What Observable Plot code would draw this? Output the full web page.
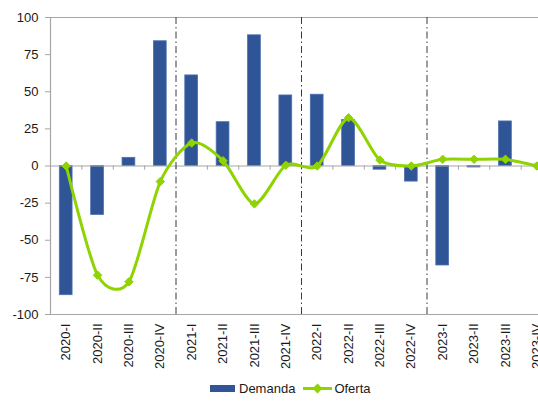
<!DOCTYPE html>
<html><head><meta charset="utf-8">
<script src="https://cdn.jsdelivr.net/npm/d3@7"></script>
<script src="https://cdn.jsdelivr.net/npm/@observablehq/plot@0.6"></script>
<style>
body{margin:0;width:538px;height:401px;overflow:hidden;background:#fff;font-family:"Liberation Sans",Arial,sans-serif;position:relative}
#chart{position:absolute;left:0;top:0;width:560px}
#chart svg{max-width:none !important}
#legend{position:absolute;left:210px;top:380px;display:flex;align-items:center;font-size:13px;color:#1a1a1a;height:16px;white-space:nowrap}
.sw{display:inline-block;width:25px;height:7px;background:#2f5597;margin-right:4px}
.ln{display:inline-block;position:relative;width:29px;height:16px;margin-left:8px;margin-right:2px}
.ln:before{content:"";position:absolute;left:0;right:0;top:6.5px;height:3px;background:#8fd300}
.ln:after{content:"";position:absolute;left:11px;top:4.5px;width:7px;height:7px;background:#8fd300;transform:rotate(45deg)}
</style></head><body>
<div id="chart"></div>
<div id="legend"><span class="sw"></span>Demanda<span class="ln"></span>Oferta</div>
<script>
const quarters = ["2020-I","2020-II","2020-III","2020-IV","2021-I","2021-II","2021-III","2021-IV","2022-I","2022-II","2022-III","2022-IV","2023-I","2023-II","2023-III","2023-IV"];
const demanda = [-87, -33, 5.5, 84, 61, 29.5, 88, 47.5, 48, 31, -2.5, -10.5, -67, -1, 30, 0];
const oferta = [0, -73.5, -78, -10.5, 15.5, 3.5, -25.5, 0.5, 0, 32.5, 4, 0, 4.5, 4.5, 4.5, 0];
const yTicks = [-100, -75, -50, -25, 0, 25, 50, 75, 100];
const yearBreaks = [4, 8, 12];

const rows = quarters.map((q, i) => ({q, i, demanda: demanda[i], oferta: oferta[i]}));
const boundaries = d3.range(1, 16);
const blue = "#2f5597", green = "#8fd300", gray = "#a6a6a6";

const chart = Plot.plot({
  width: 560, height: 372,
  marginLeft: 50, marginRight: 8, marginTop: 17, marginBottom: 58,
  style: {fontFamily: "Liberation Sans, Arial, sans-serif", fontSize: "13px", color: "#1a1a1a", background: "white", maxWidth: "none"},
  x: {type: "linear", domain: [0, 16]},
  y: {domain: [-100, 100]},
  marks: [
    Plot.rectY(rows, {x1: "i", x2: d => d.i + 1, y1: 0, y2: "demanda", fill: blue, stroke: "#4d70b0", strokeWidth: 0.8, insetLeft: 9.3, insetRight: 9.3}),
    Plot.ruleY([0], {stroke: gray, strokeWidth: 1.2}),
    Plot.ruleY([100, -100], {stroke: gray, strokeWidth: 1.2}),
    Plot.ruleX([0], {stroke: gray, strokeWidth: 1.2}),
    Plot.ruleX(boundaries, {x: d => d, y1: 0, y2: -2.8, stroke: gray}),
    Plot.ruleX(yearBreaks, {x: d => d, y1: -100, y2: 100, stroke: "#3a3a3a", strokeWidth: 1, strokeDasharray: "7,3,1.5,3"}),
    Plot.line(rows, {x: d => d.i + 0.5, y: "oferta", stroke: green, strokeWidth: 3, curve: "cardinal", tension: 0.2}),
    Plot.dot(rows, {x: d => d.i + 0.5, y: "oferta", symbol: "diamond2", r: 3.8, fill: green, stroke: green, strokeWidth: 1}),
    Plot.axisY({ticks: yTicks, tickSize: 5, tickPadding: 7, stroke: gray, fontSize: 13, tickFormat: d => String(d)}),
    Plot.axisX({ticks: quarters.map((q, i) => i + 0.5), tickFormat: d => quarters[Math.floor(d)], tickRotate: -90, tickSize: 0, tickPadding: 9, fontSize: 13, anchor: "bottom"})
  ]
});
document.getElementById("chart").append(chart);
</script>
</body></html>
